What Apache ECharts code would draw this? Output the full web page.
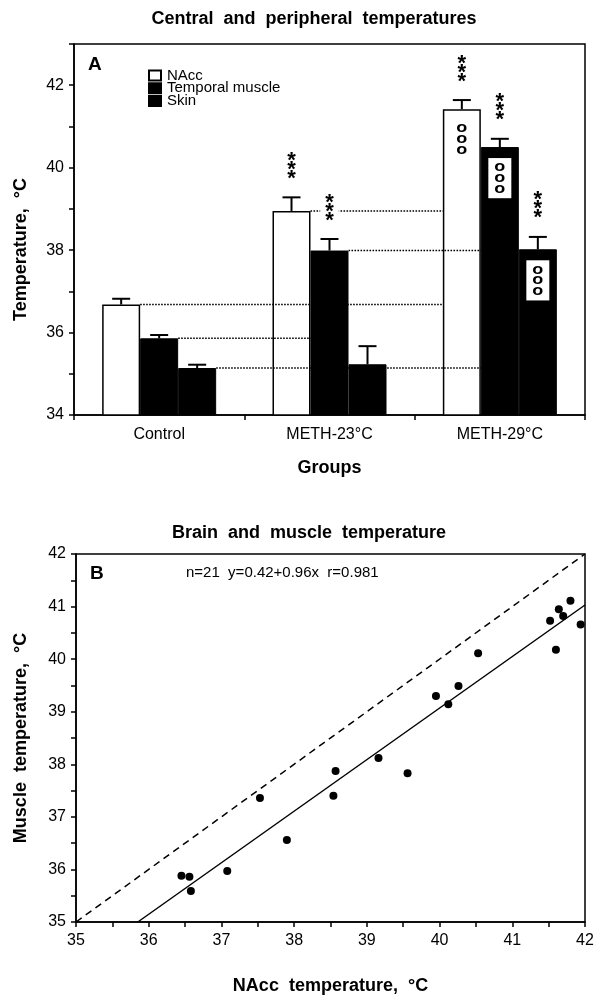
<!DOCTYPE html>
<html><head><meta charset="utf-8">
<script src="https://cdn.jsdelivr.net/npm/echarts@6.0.0/dist/echarts.min.js"></script>
<style>html,body{margin:0;padding:0;background:#fff}#c{width:604px;height:1005px}</style>
</head><body><div id="c"></div>
<script>
// ---------- Panel A data ----------
const categories = ['Control', 'METH-23°C', 'METH-29°C'];
const seriesNames = ['NAcc', 'Temporal muscle', 'Skin'];
const naccMean = [36.68, 38.95, 41.42];
const naccSem = [0.14, 0.33, 0.22];
const muscleMean = [35.86, 37.99, 40.50];
const muscleSem = [0.08, 0.28, 0.20];
const skinMean = [35.14, 35.23, 38.02];
const skinSem = [0.08, 0.44, 0.30];
const starMarks = [[1, 0], [1, 1], [2, 0], [2, 1], [2, 2]];      // [group, bar]
const ringMarks = [[2, 0], [2, 1], [2, 2]];                       // [group, bar]
const refLinks = [[0, 0, 2, 0], [0, 1, 1, 1], [0, 2, 2, 1], [1, 0, 2, 0], [1, 1, 2, 1]]; // fromGroup, fromBar, toGroup, toBar
const yTicksA = [34, 36, 38, 40, 42];

// ---------- Panel B data ----------
const naccTemp = [36.45, 36.56, 36.58, 37.08, 37.53, 37.90, 38.54, 38.57, 39.16, 39.56, 39.95, 40.12, 40.26, 40.53, 41.52, 41.60, 41.64, 41.70, 41.80, 41.94];
const muscleTemp = [35.88, 35.86, 35.59, 35.97, 37.36, 36.56, 37.40, 37.87, 38.12, 37.83, 39.30, 39.14, 39.49, 40.11, 40.73, 40.18, 40.95, 40.82, 41.11, 40.66];
const fitLine = [[35.85, 35], [42, 41.03]];
const identityLine = [[35, 35], [42, 42]];
const xTicksB = [35, 36, 37, 38, 39, 40, 41, 42];
const yTicksB = [35, 36, 37, 38, 39, 40, 41, 42];
const statsText = 'n=21  y=0.42+0.96x  r=0.981';

const FONT = "'Liberation Sans', Arial, Helvetica, sans-serif";
const BAR_W = 38;
const means = [naccMean, muscleMean, skinMean];
const sems = [naccSem, muscleSem, skinSem];

const errData = [];
for (let b = 0; b < 3; b++) for (let g = 0; g < 3; g++) errData.push([g, b, means[b][g], means[b][g] + sems[b][g]]);
const linkData = refLinks.map(l => [l[0], l[1], l[2], l[3], means[l[1]][l[0]]]);
const starData = starMarks.map(s => [s[0], s[1], means[s[1]][s[0]] + sems[s[1]][s[0]]]);
const ringData = ringMarks.map(s => [s[0], s[1], means[s[1]][s[0]]]);
const scatterData = naccTemp.map((x, i) => [x, muscleTemp[i]]);

const chart = echarts.init(document.getElementById('c'), null, {renderer: 'canvas'});
const axisLineStyle = {lineStyle: {color: '#000', width: 1.5}};
const tickStyle = {show: true, length: 5, lineStyle: {color: '#000', width: 1.5}};
const nameStyle = {fontFamily: FONT, fontWeight: 'bold', fontSize: 18, color: '#000'};
const labelStyle = {fontFamily: FONT, fontSize: 16, color: '#000'};

chart.setOption({
  animation: false,
  backgroundColor: '#fff',
  title: [
    {text: 'Central  and  peripheral  temperatures', left: 309, top: 5, textAlign: 'center',
     textStyle: {fontFamily: FONT, fontWeight: 'bold', fontSize: 18, color: '#000'}},
    {text: 'Brain  and  muscle  temperature', left: 304, top: 519, textAlign: 'center',
     textStyle: {fontFamily: FONT, fontWeight: 'bold', fontSize: 18, color: '#000'}}
  ],
  legend: {
    data: seriesNames, orient: 'vertical', left: 143, top: 63, itemWidth: 12, itemHeight: 10, itemGap: -2.2,
    icon: 'rect', selectedMode: false,
    textStyle: {fontFamily: FONT, fontSize: 15, color: '#000', lineHeight: 11, padding: [0, 0, 0, 1]}
  },
  grid: [
    {left: 74, right: 19, top: 44, bottom: 590, show: true, borderColor: '#000', borderWidth: 1.5, backgroundColor: 'transparent'},
    {left: 76, right: 19, top: 554, bottom: 83, show: true, borderColor: '#000', borderWidth: 1.5, backgroundColor: 'transparent'}
  ],
  xAxis: [
    {type: 'category', gridIndex: 0, data: categories, boundaryGap: true,
     axisLine: axisLineStyle, axisTick: Object.assign({alignWithLabel: false}, tickStyle),
     axisLabel: Object.assign({margin: 12}, labelStyle), splitLine: {show: false},
     name: 'Groups', nameLocation: 'middle', nameGap: 44, nameTextStyle: nameStyle},
    {type: 'value', gridIndex: 1, min: 35, max: 42, interval: 0.5,
     axisLine: axisLineStyle, axisTick: tickStyle, splitLine: {show: false},
     axisLabel: Object.assign({margin: 11, formatter: v => xTicksB.includes(v) ? String(v) : ''}, labelStyle),
     name: 'NAcc  temperature,  °C', nameLocation: 'middle', nameGap: 55, nameTextStyle: nameStyle}
  ],
  yAxis: [
    {type: 'value', gridIndex: 0, min: 34, max: 43, interval: 1,
     axisLine: Object.assign({show: true}, axisLineStyle), axisTick: tickStyle, splitLine: {show: false},
     axisLabel: Object.assign({margin: 10, formatter: v => yTicksA.includes(v) ? String(v) : ''}, labelStyle),
     name: 'Temperature,  °C', nameLocation: 'middle', nameGap: 44,
     nameTextStyle: Object.assign({padding: [0, 40, 0, 0]}, nameStyle)},
    {type: 'value', gridIndex: 1, min: 35, max: 42, interval: 0.5,
     axisLine: Object.assign({show: true}, axisLineStyle), axisTick: tickStyle, splitLine: {show: false},
     axisLabel: Object.assign({margin: 10, formatter: v => yTicksB.includes(v) ? String(v) : ''}, labelStyle),
     name: 'Muscle  temperature,  °C', nameLocation: 'middle', nameGap: 46, nameTextStyle: nameStyle}
  ],
  graphic: [
    {type: 'text', left: 88, top: 55, style: {text: 'A', font: 'bold 19px ' + FONT, fill: '#000'}},
    {type: 'text', left: 90, top: 564, style: {text: 'B', font: 'bold 19px ' + FONT, fill: '#000'}},
    {type: 'text', left: 186, top: 565, style: {text: statsText, font: '15px ' + FONT, fill: '#000'}}
  ],
  series: [
    {type: 'bar', name: seriesNames[0], xAxisIndex: 0, yAxisIndex: 0, data: naccMean, barWidth: BAR_W, barGap: '0%',
     itemStyle: {color: '#fff', borderColor: '#000', borderWidth: 1.5}, z: 2},
    {type: 'bar', name: seriesNames[1], xAxisIndex: 0, yAxisIndex: 0, data: muscleMean, barWidth: BAR_W, barGap: '0%',
     itemStyle: {color: '#000', borderColor: '#000', borderWidth: 1}, z: 2},
    {type: 'bar', name: seriesNames[2], xAxisIndex: 0, yAxisIndex: 0, data: skinMean, barWidth: BAR_W, barGap: '0%',
     itemStyle: {color: '#000', borderColor: '#000', borderWidth: 1}, z: 2},
    // dotted reference lines
    {type: 'custom', xAxisIndex: 0, yAxisIndex: 0, data: linkData, z: 3, silent: true,
     encode: {x: 0, y: 4},
     renderItem: function (params, api) {
       const a = api.coord([api.value(0), api.value(4)]);
       const b = api.coord([api.value(2), api.value(4)]);
       const x1 = a[0] + (api.value(1) - 1) * BAR_W + BAR_W / 2;
       const x2 = b[0] + (api.value(3) - 1) * BAR_W - BAR_W / 2;
       return {type: 'line', shape: {x1: x1, y1: a[1], x2: x2, y2: a[1]},
               style: {stroke: '#000', lineWidth: 1.5, lineDash: [1.6, 1.4]}};
     }},
    // error bars
    {type: 'custom', xAxisIndex: 0, yAxisIndex: 0, data: errData, z: 4, silent: true,
     encode: {x: 0, y: [2, 3]},
     renderItem: function (params, api) {
       const p0 = api.coord([api.value(0), api.value(2)]);
       const p1 = api.coord([api.value(0), api.value(3)]);
       const x = p0[0] + (api.value(1) - 1) * BAR_W;
       return {type: 'group', children: [
         {type: 'line', shape: {x1: x, y1: p0[1], x2: x, y2: p1[1]}, style: {stroke: '#000', lineWidth: 2}},
         {type: 'line', shape: {x1: x - 9, y1: p1[1], x2: x + 9, y2: p1[1]}, style: {stroke: '#000', lineWidth: 2}}
       ]};
     }},
    // significance stars
    {type: 'custom', xAxisIndex: 0, yAxisIndex: 0, data: starData, z: 5, silent: true,
     encode: {x: 0, y: 2},
     renderItem: function (params, api) {
       const p = api.coord([api.value(0), api.value(2)]);
       const x = p[0] + (api.value(1) - 1) * BAR_W;
       return {type: 'text', x: x, y: p[1] - 14,
               style: {text: '*\n*\n*', font: 'bold 22px ' + FONT, lineHeight: 9, fill: '#000',
                       align: 'center', verticalAlign: 'bottom', backgroundColor: '#fff', padding: [0, 5]}};
     }},
    // ooo marks
    {type: 'custom', xAxisIndex: 0, yAxisIndex: 0, data: ringData, z: 5, silent: true,
     encode: {x: 0, y: 2},
     renderItem: function (params, api) {
       const p = api.coord([api.value(0), api.value(2)]);
       const bar = api.value(1);
       const x = p[0] + (bar - 1) * BAR_W;
       const boxed = bar > 0;
       return {type: 'text', x: x, y: p[1] + (boxed ? 11 : 14), scaleY: 0.8,
               style: {text: 'o\no\no', font: 'bold 18px ' + FONT, lineHeight: 13.4, fill: '#000',
                       align: 'center', verticalAlign: 'top',
                       backgroundColor: boxed ? '#fff' : 'transparent', padding: boxed ? [5, 6] : [0, 0]}};
     }},
    // Panel B
    {type: 'line', xAxisIndex: 1, yAxisIndex: 1, data: identityLine, showSymbol: false, symbol: 'none', silent: true,
     lineStyle: {color: '#000', width: 1.5, type: [7, 5]}, z: 2},
    {type: 'line', xAxisIndex: 1, yAxisIndex: 1, data: fitLine, showSymbol: false, symbol: 'none', silent: true,
     lineStyle: {color: '#000', width: 1.5}, z: 2},
    {type: 'scatter', xAxisIndex: 1, yAxisIndex: 1, data: scatterData, symbol: 'circle', symbolSize: 8,
     itemStyle: {color: '#000', opacity: 1}, z: 3}
  ]
});
</script>
</body></html>
